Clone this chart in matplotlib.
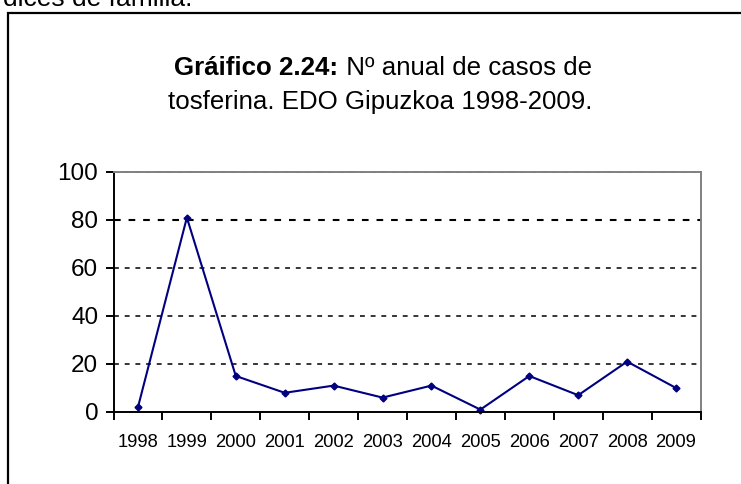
import matplotlib
matplotlib.use("Agg")
import matplotlib.pyplot as plt
from matplotlib.patches import Rectangle
from matplotlib.offsetbox import TextArea, HPacker, AnchoredOffsetbox

years = ["1998", "1999", "2000", "2001", "2002", "2003", "2004", "2005",
         "2006", "2007", "2008", "2009"]
cases = [2, 81, 15, 8, 11, 6, 11, 1, 15, 7, 21, 10]
yticks = [0, 20, 40, 60, 80, 100]

plt.rcParams['font.family'] = ['Liberation Sans', 'DejaVu Sans']

W, H = 741, 484
fig = plt.figure(figsize=(W / 100, H / 100), dpi=100)

# outer chart frame (extends past right/bottom edges)
fig.patches.append(Rectangle((8 / W, -0.2), 1.2, 1.2 - 13 / H,
                             transform=fig.transFigure, fill=False,
                             edgecolor='black', linewidth=1.6, clip_on=False))
# cropped text above the frame
fig.text(192 / W, 1 - 6 / H, "dices de familia.", ha='right', va='baseline',
         fontsize=19, color='black')

# title line 1: bold part + regular part
ts = 18.6
ta1 = TextArea("Gráifico 2.24:", textprops=dict(fontsize=ts, fontweight='bold', color='black'))
ta2 = TextArea(" Nº anual de casos de", textprops=dict(fontsize=ts, color='black'))
box = HPacker(children=[ta1, ta2], align='baseline', pad=0, sep=0)
ab = AnchoredOffsetbox(loc='center', child=box, frameon=False,
                       bbox_to_anchor=(383 / W, 1 - 68 / H),
                       bbox_transform=fig.transFigure, borderpad=0, pad=0)
fig.add_artist(ab)
fig.text(380 / W, 1 - 102 / H, "tosferina. EDO Gipuzkoa 1998-2009.",
         ha='center', va='center', fontsize=ts, color='black')

left, right, top, bottom = 113.5, 700.5, 172, 412
ax = fig.add_axes([left / W, 1 - bottom / H, (right - left) / W, (bottom - top) / H])

x = list(range(len(years)))
ax.plot(x, cases, color='#000080', linewidth=1.5, marker='D', markersize=3.5,
        zorder=3, clip_on=False)

ax.set_xlim(-0.5, len(years) - 0.5)
ax.set_ylim(0, 100)

# gridlines
for v in yticks[1:]:
    ax.axhline(v, color='black', linewidth=1.5 if v == 80 else 1.1,
               dashes=(3.2, 3.8), zorder=2)

ax.set_yticks(yticks)
ax.set_yticklabels([str(v) for v in yticks], fontsize=17.5)
ax.tick_params(axis='y', direction='out', length=6, width=1.4, pad=5)

ax.set_xticks([i - 0.5 for i in range(len(years) + 1)])
ax.set_xticklabels([])
ax.set_xticks(x, minor=True)
ax.set_xticklabels(years, minor=True, fontsize=13.2)
ax.tick_params(axis='x', which='major', direction='out', length=6, width=1.4)
ax.tick_params(axis='x', which='minor', length=0, pad=16)

ax.spines['left'].set_color('black')
ax.spines['left'].set_linewidth(1.4)
ax.spines['bottom'].set_color('black')
ax.spines['bottom'].set_linewidth(1.4)
ax.spines['top'].set_color('#808080')
ax.spines['top'].set_linewidth(1.4)
ax.spines['right'].set_color('#808080')
ax.spines['right'].set_linewidth(1.4)
ax.spines['bottom'].set_zorder(4)

fig.savefig("out.png", dpi=100)
